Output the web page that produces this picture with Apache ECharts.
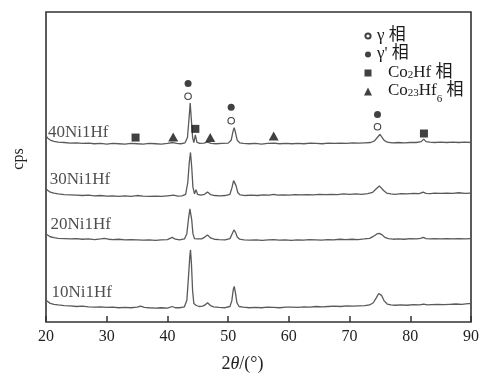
<!DOCTYPE html>
<html><head><meta charset="utf-8">
<script src="https://cdn.jsdelivr.net/npm/echarts@6/dist/echarts.min.js"></script>
<style>html,body{margin:0;padding:0;background:#fff}#c{width:482px;height:378px}</style>
</head><body><div id="c"></div>
<script>
const xTicks = [20, 30, 40, 50, 60, 70, 80, 90];
const traceNames = ['40Ni1Hf', '30Ni1Hf', '20Ni1Hf', '10Ni1Hf'];
const traceLabelAt = [[20.33, 61.1], [20.6, 45.8], [20.75, 31.5], [20.9, 9.4]];
const t40 = [[20,60.0],[20.3,59.3],[20.7,58.7],[21.3,58.3],[22,58.0],[23,57.9],[24,57.7],[25,57.8],[26,57.6],[27,57.7],[28,57.5],[29,57.6],[30,57.4],[31,57.6],[32,57.5],[33,57.4],[34,57.6],[35,57.5],[36,57.4],[37,57.6],[38,57.5],[39,57.4],[40,57.6],[40.9,57.9],[41.5,57.6],[42.2,57.5],[42.9,57.8],[43.3,59.5],[43.55,65.5],[43.75,70.6],[43.95,65],[44.15,59.5],[44.35,57.9],[44.6,60.4],[44.85,58.0],[45.3,57.6],[46,57.7],[46.6,58.0],[47.2,57.6],[48,57.5],[49,57.6],[50,57.7],[50.5,58.6],[50.8,61.5],[51.0,62.7],[51.2,61.2],[51.5,58.6],[51.9,57.8],[52.5,57.6],[53.5,57.5],[54.5,57.6],[55.5,57.4],[56.5,57.6],[57.5,57.7],[58.5,57.5],[59.5,57.6],[60.5,57.5],[61.5,57.6],[62.5,57.5],[63.5,57.7],[64.5,57.6],[65.5,57.5],[66.5,57.7],[67.5,57.6],[68.5,57.7],[69.5,57.6],[70.5,57.8],[71.5,57.7],[72.5,57.8],[73.5,57.9],[74.1,58.4],[74.6,59.6],[75.0,60.5],[75.3,59.9],[75.7,58.6],[76.2,58.0],[77,57.8],[78,57.9],[79,57.8],[80,57.9],[81,57.9],[81.8,58.2],[82.2,59.0],[82.6,58.2],[83.2,58.0],[84,57.9],[85,58.0],[86,57.9],[87,58.0],[88,57.9],[89,58.0],[90,57.9]];
const t30 = [[20,43.1],[20.3,42.4],[20.7,41.9],[21.3,41.6],[22,41.3],[23,41.1],[24,41.0],[25,40.9],[26,40.8],[27,40.9],[28,40.7],[29,40.8],[30,40.6],[31,40.7],[32,40.5],[33,40.7],[34,40.5],[35,40.8],[36,40.6],[37,40.5],[38,40.6],[39,40.5],[40,40.7],[41,40.9],[41.7,40.6],[42.4,40.7],[43.0,41.2],[43.35,45],[43.6,51.5],[43.8,54.7],[44.0,50],[44.2,43.5],[44.45,41.3],[44.7,42.7],[44.95,41.2],[45.5,40.9],[46.1,41.2],[46.6,41.9],[47.1,41.1],[47.8,40.8],[48.6,40.7],[49.5,40.8],[50.3,41.2],[50.65,43.5],[50.9,45.6],[51.05,45.8],[51.3,44],[51.6,41.7],[52,41.0],[52.8,40.8],[53.8,40.9],[54.8,40.8],[55.8,41.0],[56.8,40.9],[57.5,41.2],[58.2,40.9],[59,41.0],[60,40.9],[61,41.1],[62,41.0],[63,41.1],[64,41.0],[65,41.2],[66,41.1],[67,41.2],[68,41.1],[69,41.3],[70,41.2],[71,41.3],[72,41.2],[73,41.4],[73.8,41.8],[74.4,43.0],[74.9,43.9],[75.2,43.6],[75.6,42.4],[76.1,41.6],[76.8,41.3],[77.5,41.2],[78.5,41.4],[79.5,41.3],[80.5,41.5],[81.5,41.4],[82.1,41.9],[82.6,41.5],[83.3,41.4],[84,41.6],[85,41.5],[86,41.6],[87,41.5],[88,41.7],[89,41.5],[90,41.6]];
const t20 = [[20,28.4],[20.3,27.9],[20.7,27.5],[21.3,27.2],[22,27.0],[23,26.9],[24,26.8],[25,26.9],[26,26.7],[27,26.8],[28,26.6],[29,26.8],[29.6,27.0],[30.3,26.7],[31,26.6],[32,26.7],[33,26.5],[34,26.6],[35,26.5],[36,26.4],[37,26.5],[38,26.3],[39,26.5],[40,26.6],[40.8,27.3],[41.3,26.7],[42,26.5],[42.8,26.8],[43.2,28.5],[43.45,33],[43.7,36.5],[43.8,37.0],[44.0,33],[44.2,28.5],[44.45,26.9],[44.7,27.4],[45.0,26.8],[45.6,26.8],[46.1,27.3],[46.6,28.1],[47.1,27.1],[47.7,26.7],[48.5,26.6],[49.5,26.5],[50.3,26.9],[50.65,28.4],[50.95,29.7],[51.2,29.0],[51.5,27.4],[51.9,26.7],[52.6,26.5],[53.6,26.4],[54.6,26.5],[55.6,26.3],[56.6,26.5],[57.5,26.6],[58.4,26.4],[59.4,26.5],[60.4,26.3],[61.4,26.5],[62.4,26.4],[63.4,26.6],[64.4,26.5],[65.4,26.4],[66.4,26.6],[67.4,26.5],[68.4,26.7],[69.4,26.6],[70.4,26.7],[71.4,26.6],[72.4,26.8],[73.3,27.0],[73.9,27.6],[74.5,28.4],[74.9,28.6],[75.3,28.2],[75.8,27.3],[76.4,26.9],[77.2,26.7],[78,26.8],[79,26.7],[80,26.9],[81,26.8],[81.7,27.0],[82.1,27.3],[82.6,26.9],[83.3,26.8],[84,26.9],[85,26.8],[86,26.9],[87,26.8],[88,26.9],[89,26.8],[90,26.9]];
const t10 = [[20,7.0],[20.3,6.4],[20.7,6.0],[21.3,5.7],[22,5.5],[23,5.3],[24,5.2],[25,5.0],[26,5.1],[27,4.9],[28,4.8],[29,4.9],[30,4.7],[31,4.8],[32,4.6],[33,4.7],[34,4.6],[35,4.8],[35.6,5.1],[36.2,4.7],[37,4.6],[38,4.5],[39,4.6],[40,4.5],[40.8,5.0],[41.3,4.6],[42,4.6],[42.8,4.9],[43.2,7],[43.45,14],[43.7,21.5],[43.8,23.3],[43.95,19],[44.15,10],[44.35,6.0],[44.7,5.4],[45.2,5.0],[45.8,5.1],[46.2,5.5],[46.6,6.2],[47.1,5.3],[47.6,4.9],[48.5,4.7],[49.5,4.6],[50.3,5.0],[50.6,6.8],[50.85,10.5],[51.0,11.5],[51.2,9.5],[51.45,6.2],[51.8,5.0],[52.5,4.8],[53.5,4.6],[54.5,4.7],[55.5,4.6],[56.5,4.8],[57.5,4.7],[58.5,4.6],[59.5,4.8],[60.5,4.8],[61.5,4.7],[62.5,4.9],[63.5,4.8],[64.5,5.0],[65.5,4.9],[66.5,5.0],[67.5,5.1],[68.5,5.0],[69.5,5.2],[70.5,5.1],[71.5,5.2],[72.5,5.3],[73.3,5.5],[73.9,6.2],[74.4,7.8],[74.8,9.2],[75.0,9.4],[75.3,8.5],[75.7,6.8],[76.2,5.8],[76.8,5.5],[77.5,5.4],[78.5,5.5],[79.5,5.4],[80.5,5.6],[81.5,5.5],[82.2,5.8],[82.8,5.5],[83.5,5.6],[84.5,5.7],[85.5,5.6],[86.5,5.7],[87.5,5.8],[88.5,5.7],[89.5,5.9],[90,5.9]];
const gammaPts = [[43.4,72.8],[50.5,64.9],[74.6,63.0]];
const gammaPrimePts = [[43.4,76.9],[50.5,69.3],[74.6,66.9]];
const co2hfPts = [[34.75,59.5],[44.6,62.3],[82.25,60.8]];
const co23hf6Pts = [[40.95,59.7],[47.05,59.5],[57.5,60.0]];
const phaseNames = ['γ 相', "γ' 相", 'Co2Hf 相', 'Co23Hf6 相'];

const serif = '"Liberation Serif", "Times New Roman", "Noto Sans CJK SC", serif';
const chart = echarts.init(document.getElementById('c'), null, {renderer: 'canvas'});
const traces = [t40, t30, t20, t10];
const legendRich = {
  a: {fontFamily: serif, fontSize: 17, color: '#1a1a1a', lineHeight: 18, verticalAlign: 'top'},
  c: {fontFamily: serif, fontSize: 17, color: '#1a1a1a', lineHeight: 18, verticalAlign: 'top', padding: [0, 0, 0, 11]},
  s: {fontFamily: serif, fontSize: 11, color: '#1a1a1a', lineHeight: 7, verticalAlign: 'top', padding: [5.5, 0, 0, 0]},
  sub: {fontFamily: serif, fontSize: 11, color: '#1a1a1a', lineHeight: 7, verticalAlign: 'top', padding: [11.5, 0, 0, 0]}
};
const series = traces.map((d, i) => ({
  name: traceNames[i], type: 'line', data: d, showSymbol: false, smooth: false,
  lineStyle: {color: '#5a5a5a', width: 1.3}, silent: true, z: 2
}));
series.push(
  {name: phaseNames[0], type: 'scatter', data: gammaPts, symbol: 'circle', symbolSize: 6.5,
   itemStyle: {color: '#fff', borderColor: '#111', borderWidth: 1.1}, z: 5},
  {name: phaseNames[1], type: 'scatter', data: gammaPrimePts, symbol: 'circle', symbolSize: 7,
   itemStyle: {color: '#111'}, z: 5},
  {name: phaseNames[2], type: 'scatter', data: co2hfPts, symbol: 'rect', symbolSize: 8,
   itemStyle: {color: '#111'}, z: 5},
  {name: phaseNames[3], type: 'scatter', data: co23hf6Pts, symbol: 'triangle', symbolSize: [10, 9],
   itemStyle: {color: '#111'}, z: 5},
  {name: 'labels', type: 'scatter', symbolSize: 0, silent: true, z: 6,
   data: traceLabelAt.map((p, i) => ({value: p, name: traceNames[i]})),
   label: {show: true, position: 'right', distance: 0, formatter: p => p.name,
           fontFamily: serif, fontSize: 17, color: '#222'}}
);
chart.setOption({
  animation: false,
  backgroundColor: '#fff',
  grid: {left: 46, right: 8, top: 12, bottom: 50, show: true, borderColor: '#333', borderWidth: 1.6, backgroundColor: 'transparent'},
  legend: {
    data: [
      {name: phaseNames[0], icon: 'path://M0,0M8,8M4,1.4A2.6,2.6,0,1,1,3.99,1.4Z'},
      {name: phaseNames[1], icon: 'path://M0,0M8,8M4,1A3,3,0,1,1,3.99,1Z'},
      {name: phaseNames[2], icon: 'path://M0,0M8,8M0.5,0.5L7.5,0.5L7.5,7.5L0.5,7.5Z'},
      {name: phaseNames[3], icon: 'triangle'}
    ],
    orient: 'vertical', left: 358, top: 22, itemGap: 1.5,
    itemWidth: 8, itemHeight: 8, selectedMode: false,
    formatter: function (n) {
      if (n === phaseNames[0]) return '{a|γ 相}';
      if (n === phaseNames[1]) return "{a|γ' 相}";
      if (n === phaseNames[2]) return '{c|Co}{s|2}{a|Hf 相}';
      return '{c|Co}{s|23}{a|Hf}{sub|6}{a| 相}';
    },
    textStyle: {rich: legendRich}
  },
  xAxis: {
    type: 'value', min: 20, max: 90, interval: 10,
    axisLine: {show: false},
    axisTick: {show: true, inside: true, length: 6, lineStyle: {color: '#333', width: 1.5}},
    axisLabel: {fontFamily: serif, fontSize: 16, color: '#222', margin: 7,
                formatter: v => xTicks.indexOf(v) >= 0 ? String(v) : ''},
    splitLine: {show: false},
    name: '2{i|θ}/(°)', nameLocation: 'middle', nameGap: 33,
    nameTextStyle: {fontFamily: serif, fontSize: 18, color: '#222', padding: [0, 32, 0, 0],
                    rich: {i: {fontFamily: serif, fontSize: 18, fontStyle: 'italic', color: '#222'}}}
  },
  yAxis: {
    type: 'value', min: 0, max: 100,
    axisLine: {show: false}, axisTick: {show: false}, axisLabel: {show: false}, splitLine: {show: false},
    name: 'cps', nameLocation: 'middle', nameGap: 19, nameRotate: 90,
    nameTextStyle: {fontFamily: serif, fontSize: 16, color: '#222', padding: [0, 0, 0, 16]}
  },
  series: series
});
</script></body></html>
